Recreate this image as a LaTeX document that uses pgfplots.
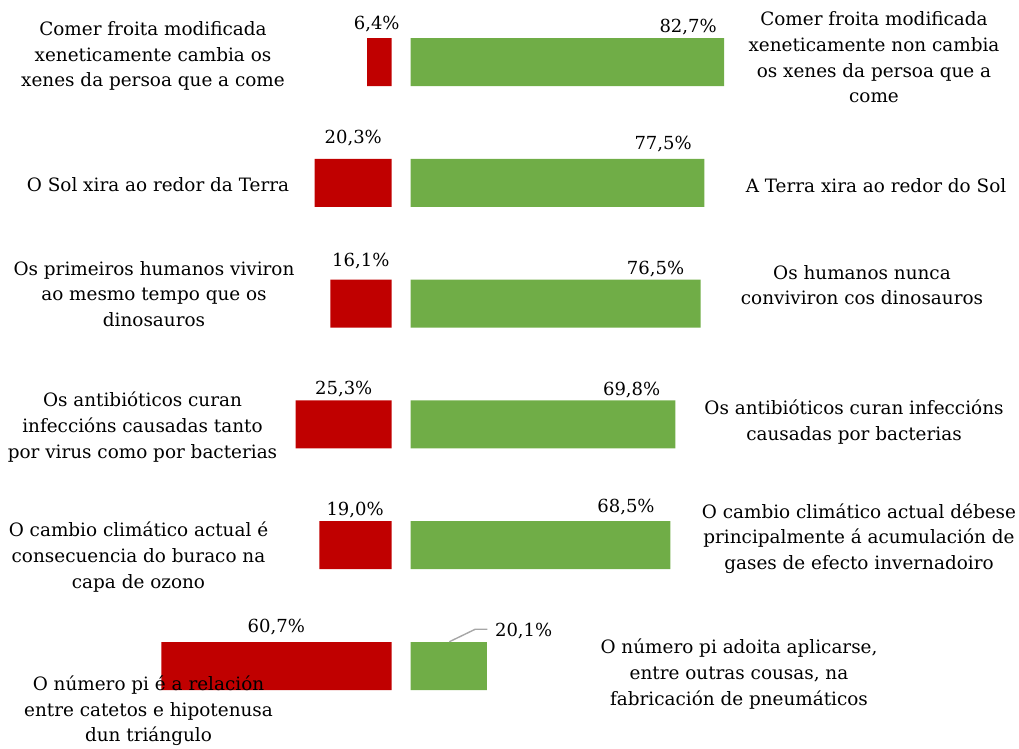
\documentclass[border=0pt]{standalone}
\usepackage{fontspec}
\setmainfont{DejaVu Serif}
\usepackage{pgfplots}
\pgfplotsset{compat=1.18}
\definecolor{barred}{RGB}{192,0,0}
\definecolor{bargreen}{RGB}{112,173,71}
\definecolor{leader}{RGB}{166,166,166}
\tikzset{lbl/.style={font=\fontsize{18}{25.5}\selectfont, inner sep=0pt, align=center},
         cat/.style={font=\fontsize{18.4}{25.6}\selectfont, inner sep=0pt, align=center}}
\begin{document}
\begin{tikzpicture}
\path[use as bounding box] (0,0) rectangle (1019pt,-748pt);
% red (left) bars
\begin{axis}[
  at={(391.5pt,-1.6pt)}, anchor=north east,
  scale only axis, x=3.79pt, y=120.8pt,
  x dir=reverse, y dir=reverse,
  xmin=0, xmax=100, ymin=-0.5, ymax=5.5,
  hide axis, clip=false,
  xbar, bar width=48pt, bar shift=0pt,
]
\addplot[fill=barred, draw=none] coordinates {(6.4,0) (20.3,1) (16.1,2) (25.3,3) (19.0,4) (60.7,5)};
\node[lbl, anchor=base] at (axis cs:3.9,-0.273) {6,4\%};
\node[lbl, anchor=base] at (axis cs:10.1,0.673) {20,3\%};
\node[lbl, anchor=base] at (axis cs:8.1,1.695) {16,1\%};
\node[lbl, anchor=base] at (axis cs:12.6,2.751) {25,3\%};
\node[lbl, anchor=base] at (axis cs:9.6,3.758) {19,0\%};
\node[lbl, anchor=base] at (axis cs:30.4,4.721) {60,7\%};
\end{axis}
% green (right) bars
\begin{axis}[
  at={(410.7pt,-1.6pt)}, anchor=north west,
  scale only axis, x=3.79pt, y=120.8pt,
  y dir=reverse,
  xmin=0, xmax=100, ymin=-0.5, ymax=5.5,
  hide axis, clip=false,
  xbar, bar width=48pt, bar shift=0pt,
]
\addplot[fill=bargreen, draw=none] coordinates {(82.7,0) (77.5,1) (76.5,2) (69.8,3) (68.5,4) (20.1,5)};
\node[lbl, anchor=base] at (axis cs:73.2,-0.246) {82,7\%};
\node[lbl, anchor=base] at (axis cs:66.6,0.728) {77,5\%};
\node[lbl, anchor=base] at (axis cs:64.6,1.763) {76,5\%};
\node[lbl, anchor=base] at (axis cs:58.3,2.757) {69,8\%};
\node[lbl, anchor=base] at (axis cs:56.8,3.731) {68,5\%};
\node[lbl, anchor=base] at (axis cs:29.8,4.757) {20,1\%};
\draw[leader, line width=1.4pt] (axis cs:10.2,4.799) -- (axis cs:17.0,4.696) -- (axis cs:20.2,4.696);
\end{axis}
% category texts, left
\node[cat] at (153pt,-56pt) {Comer froita modificada\\xeneticamente cambia os\\xenes da persoa que a come};
\node[cat] at (158pt,-185pt) {O Sol xira ao redor da Terra};
\node[cat] at (154pt,-294pt) {Os primeiros humanos viviron\\ao mesmo tempo que os\\dinosauros};
\node[cat] at (142.5pt,-427pt) {Os antibióticos curan\\infeccións causadas tanto\\por virus como por bacterias};
\node[cat] at (138.5pt,-557pt) {O cambio climático actual é\\consecuencia do buraco na\\capa de ozono};
\node[cat] at (148.5pt,-711pt) {O número pi é a relación\\entre catetos e hipotenusa\\dun triángulo};
% category texts, right
\node[cat] at (874pt,-57.5pt) {Comer froita modificada\\xeneticamente non cambia\\os xenes da persoa que a\\come};
\node[cat] at (876pt,-186pt) {A Terra xira ao redor do Sol};
\node[cat] at (862pt,-285.3pt) {Os humanos nunca\\conviviron cos dinosauros};
\node[cat] at (854pt,-422pt) {Os antibióticos curan infeccións\\causadas por bacterias};
\node[cat] at (859pt,-538.5pt) {O cambio climático actual débese\\principalmente á acumulación de\\gases de efecto invernadoiro};
\node[cat] at (739pt,-674pt) {O número pi adoita aplicarse,\\entre outras cousas, na\\fabricación de pneumáticos};
\end{tikzpicture}
\end{document}
